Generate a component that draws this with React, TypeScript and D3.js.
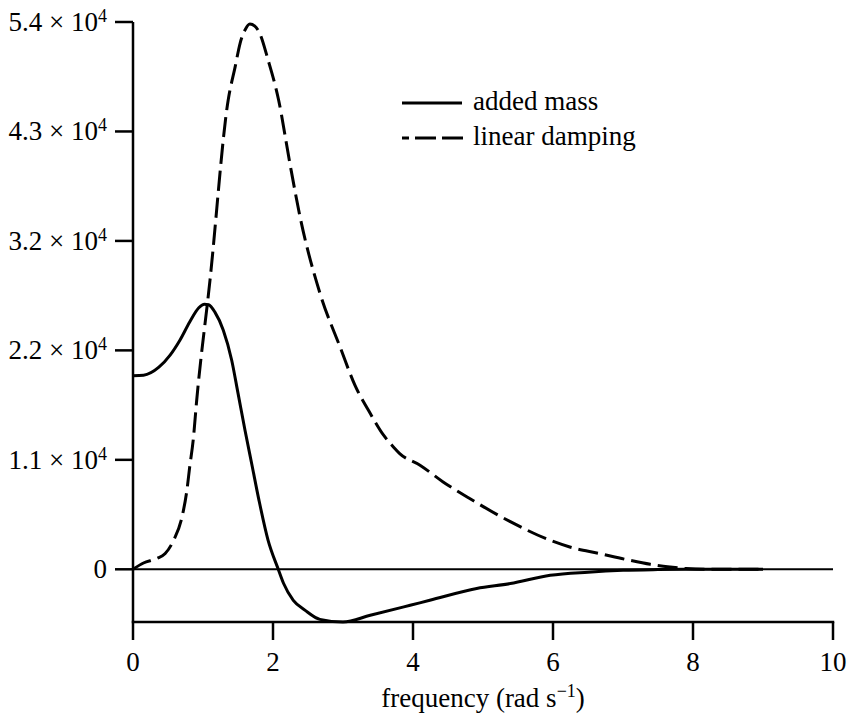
import React from "react";
import * as d3 from "d3";

const addedMassFreq = [0, 0.15, 0.37, 0.53, 0.67, 0.81, 0.94, 1.02, 1.08, 1.17, 1.29, 1.41, 1.5, 1.6, 1.7, 1.8, 1.93, 2.07, 2.15, 2.29, 2.46, 2.67, 3.0, 3.39, 3.96, 4.24, 4.91, 5.39, 5.96, 6.5, 7.0, 7.5, 8.0, 9.0];
const addedMass = [19100, 19150, 19940, 21130, 22600, 24400, 25800, 26160, 26100, 25370, 23590, 20630, 17380, 13720, 10270, 6800, 2860, 100, -1380, -3060, -4050, -4940, -5200, -4540, -3550, -3060, -1900, -1410, -590, -280, -100, -30, 0, 0];

const dampingFreq = [0, 0.15, 0.34, 0.46, 0.58, 0.7, 0.77, 0.81, 0.86, 0.91, 1.1, 1.36, 1.46, 1.53, 1.6, 1.67, 1.74, 1.81, 1.93, 2.08, 2.24, 2.39, 2.67, 2.96, 3.17, 3.39, 3.58, 3.72, 3.81, 4.1, 4.43, 4.81, 5.39, 5.96, 6.24, 6.67, 7.05, 7.39, 7.67, 7.9, 8.2, 9.0];
const damping = [0, 620, 1060, 1550, 2860, 5160, 7800, 10100, 12740, 16680, 28530, 46310, 49600, 51900, 53210, 53800, 53600, 52880, 50250, 46310, 40090, 34660, 27260, 21900, 18170, 15370, 13230, 12070, 11420, 10270, 8620, 6980, 4700, 2860, 2200, 1550, 960, 490, 230, 70, 0, 0];

const xTicks = [0, 2, 4, 6, 8, 10];
const yTicks = [0, 10800, 21600, 32400, 43200, 54000];
const yTickMantissa = ["0", "1.1", "2.2", "3.2", "4.3", "5.4"];
const legendLabels = ["added mass", "linear damping"];
const xLabel = "frequency (rad s";

const W = 850;
const H = 721;
const FONT = "'Liberation Serif', Tinos, 'Times New Roman', Times, 'DejaVu Serif', serif";

export default function App() {
  const x = d3.scaleLinear().domain([0, 10]).range([133, 833]);
  const y = d3.scaleLinear().domain([-5200, 54000]).range([622, 22]);

  const line = d3
    .line<[number, number]>()
    .x((d) => x(d[0]))
    .y((d) => y(d[1]))
    .curve(d3.curveMonotoneX);

  const amPath = line(addedMassFreq.map((f, i) => [f, addedMass[i]]) as [number, number][]) || "";
  const dpPath = line(dampingFreq.map((f, i) => [f, damping[i]]) as [number, number][]) || "";

  const x0 = x(0);
  const yBottom = y(-5200);

  return (
    <svg
      width={W}
      height={H}
      style={{ position: "absolute", left: 0, top: 0, background: "#fff", fontFamily: FONT }}
    >
      <rect x={0} y={0} width={W} height={H} fill="#fff" />
      <line x1={x(0)} x2={x(10)} y1={y(0)} y2={y(0)} stroke="#000" strokeWidth={2} />
      <path d={amPath} fill="none" stroke="#000" strokeWidth={3} strokeLinejoin="round" />
      <path d={dpPath} fill="none" stroke="#000" strokeWidth={3} strokeDasharray="20 7" strokeLinejoin="round" />
      <line x1={x0} x2={x0} y1={y(54000)} y2={yBottom} stroke="#000" strokeWidth={2.5} />
      <line x1={x0 - 1.25} x2={x(10) + 1.25} y1={yBottom} y2={yBottom} stroke="#000" strokeWidth={2.5} />
      {yTicks.map((t, i) => (
        <g key={"y" + i}>
          <line x1={x0 - 18} x2={x0} y1={y(t)} y2={y(t)} stroke="#000" strokeWidth={2.5} />
          <text x={107} y={y(t) + 9} textAnchor="end" fontSize={27}>
            {i === 0 ? (
              "0"
            ) : (
              <>
                <tspan>{yTickMantissa[i] + " \u00d7 10"}</tspan>
                <tspan dy={-9} fontSize={18}>4</tspan>
              </>
            )}
          </text>
        </g>
      ))}
      {xTicks.map((t, i) => (
        <g key={"x" + i}>
          <line x1={x(t)} x2={x(t)} y1={yBottom} y2={yBottom + 18} stroke="#000" strokeWidth={2.5} />
          <text x={x(t)} y={671} textAnchor="middle" fontSize={27}>
            {String(t)}
          </text>
        </g>
      ))}
      <text x={(x(0) + x(10)) / 2} y={707} textAnchor="middle" fontSize={27}>
        <tspan>{xLabel}</tspan>
        <tspan dy={-10} fontSize={18}>{"\u22121"}</tspan>
        <tspan dy={10}>)</tspan>
      </text>
      <line x1={402} x2={462} y1={103} y2={103} stroke="#000" strokeWidth={3} />
      <text x={473} y={110} fontSize={27}>{legendLabels[0]}</text>
      <line x1={402} x2={463} y1={138} y2={138} stroke="#000" strokeWidth={3} strokeDasharray="21 6" strokeDashoffset={14} />
      <text x={473} y={145} fontSize={27}>{legendLabels[1]}</text>
    </svg>
  );
}
